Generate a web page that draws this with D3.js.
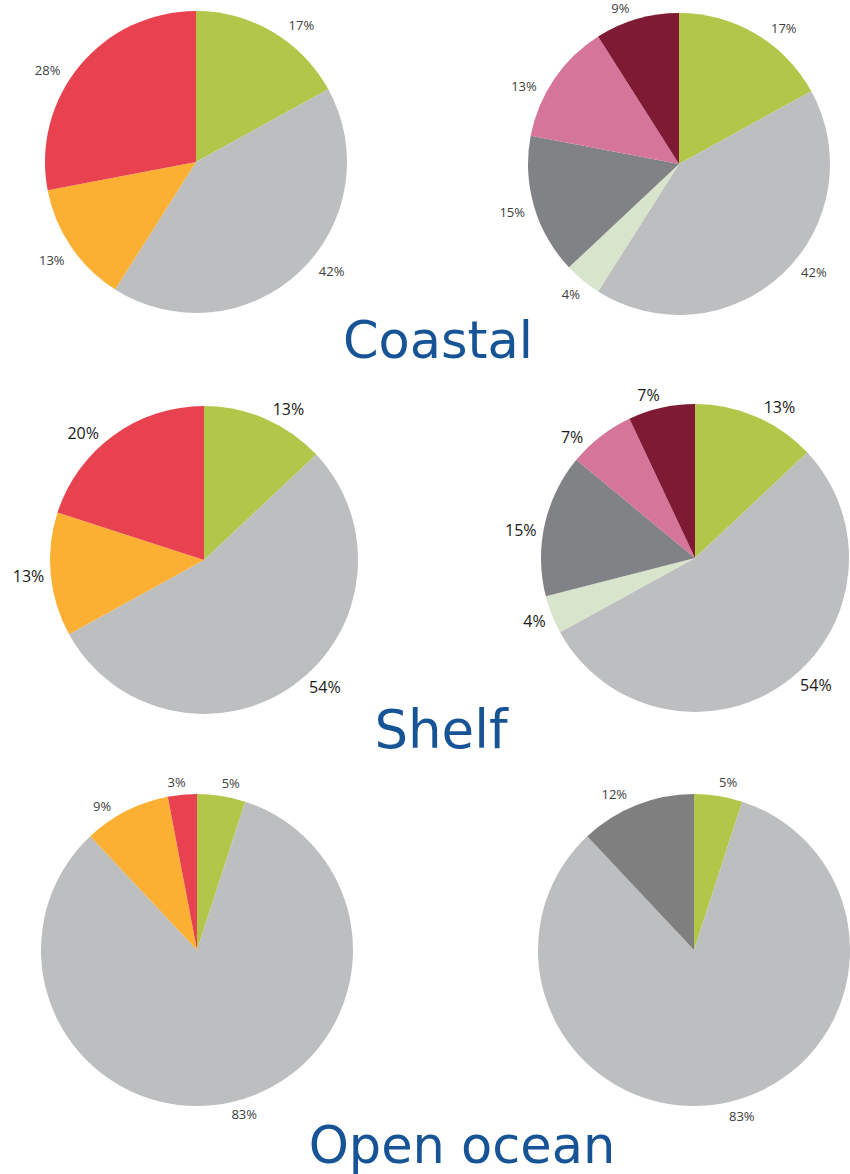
<!DOCTYPE html>
<html>
<head>
<meta charset="utf-8">
<script src="https://cdn.jsdelivr.net/npm/d3@7"></script>
<style>
  body { margin: 0; background: #fff; }
  .title { font-family: "DejaVu Sans", Verdana, sans-serif; fill: #175496; }
  .lbl { font-family: "Open Sans", "Noto Sans", sans-serif; }
</style>
</head>
<body>
<script>
// slice values (percent), clockwise from 12 o'clock
var coastalLeft  = [17, 42, 13, 28];
var coastalRight = [17, 42, 4, 15, 13, 9];
var shelfLeft    = [13, 54, 13, 20];
var shelfRight   = [13, 54, 4, 15, 7, 7];
var oceanLeft    = [5, 83, 9, 3];
var oceanRight   = [5, 83, 12];

var titles = ["Coastal", "Shelf", "Open ocean"];

var leftColors  = ["#b2c74a", "#bdbec0", "#fbb034", "#e84150"];
var rightColors = ["#b2c74a", "#bdbec0", "#d8e4cb", "#818286", "#d47599", "#7e1a34"];
var oceanRightColors = ["#b2c74a", "#bdbec0", "#7f7f7f"];

var width = 850, height = 1174;

var svg = d3.select("body").append("svg")
    .attr("width", width)
    .attr("height", height);

// one entry per pie: where it sits and how big it is (gap = label distance from rim)
var pies = [
  {values: coastalLeft,  colors: leftColors,       cx: 196, cy: 162, r: 151, fs: 13, fc: "#404040", gap: 10},
  {values: coastalRight, colors: rightColors,      cx: 679, cy: 164, r: 151, fs: 13, fc: "#404040", gap: 9},
  {values: shelfLeft,    colors: leftColors,       cx: 204, cy: 560, r: 154, fs: 16, fc: "#1a1a1a", gap: 6},
  {values: shelfRight,   colors: rightColors,      cx: 695, cy: 558, r: 154, fs: 16, fc: "#1a1a1a", gap: 6},
  {values: oceanLeft,    colors: leftColors,       cx: 197, cy: 950, r: 156, fs: 13, fc: "#404040", gap: 7},
  {values: oceanRight,   colors: oceanRightColors, cx: 694, cy: 950, r: 156, fs: 13, fc: "#404040", gap: 9}
];

var pie = d3.pie().sort(null).value(function(d) { return d; });
var spread = 8 * Math.PI / 180; // push labels a bit away from the vertical axis

pies.forEach(function(p) {
  var arc = d3.arc().innerRadius(0).outerRadius(p.r);

  var g = svg.append("g")
      .attr("transform", "translate(" + p.cx + "," + p.cy + ")");

  var arcs = pie(p.values);

  g.selectAll("path")
      .data(arcs)
    .enter().append("path")
      .attr("d", arc)
      .attr("fill", function(d, i) { return p.colors[i]; });

  g.selectAll("text")
      .data(arcs)
    .enter().append("text")
      .attr("class", "lbl")
      .attr("text-anchor", "middle")
      .attr("dy", "0.36em")
      .style("font-size", p.fs + "px")
      .style("fill", p.fc)
      .text(function(d) { return d.data + "%"; })
      .attr("transform", function(d) {
        var a = (d.startAngle + d.endAngle) / 2;
        if (!(a > Math.PI && a < 1.5 * Math.PI)) a += spread * Math.sin(2 * a);
        var w = this.getComputedTextLength(), h = p.fs * 0.75;
        var dist = p.r + p.gap + Math.abs(Math.sin(a)) * w / 2 + Math.abs(Math.cos(a)) * h / 2;
        var x = dist * Math.sin(a), y = -dist * Math.cos(a);
        // keep the label inside the page
        var minY = -p.cy + h / 2 + 3;
        if (y < minY) y = minY;
        return "translate(" + x + "," + y + ")";
      });
});

// section titles
var titlePos = [
  {x: 438, y: 358, fs: 51},
  {x: 441, y: 748, fs: 53},
  {x: 462, y: 1163, fs: 51}
];

svg.selectAll(".title")
    .data(titles)
  .enter().append("text")
    .attr("class", "title")
    .attr("x", function(d, i) { return titlePos[i].x; })
    .attr("y", function(d, i) { return titlePos[i].y; })
    .attr("text-anchor", "middle")
    .style("font-size", function(d, i) { return titlePos[i].fs + "px"; })
    .text(function(d) { return d; });
</script>
</body>
</html>
